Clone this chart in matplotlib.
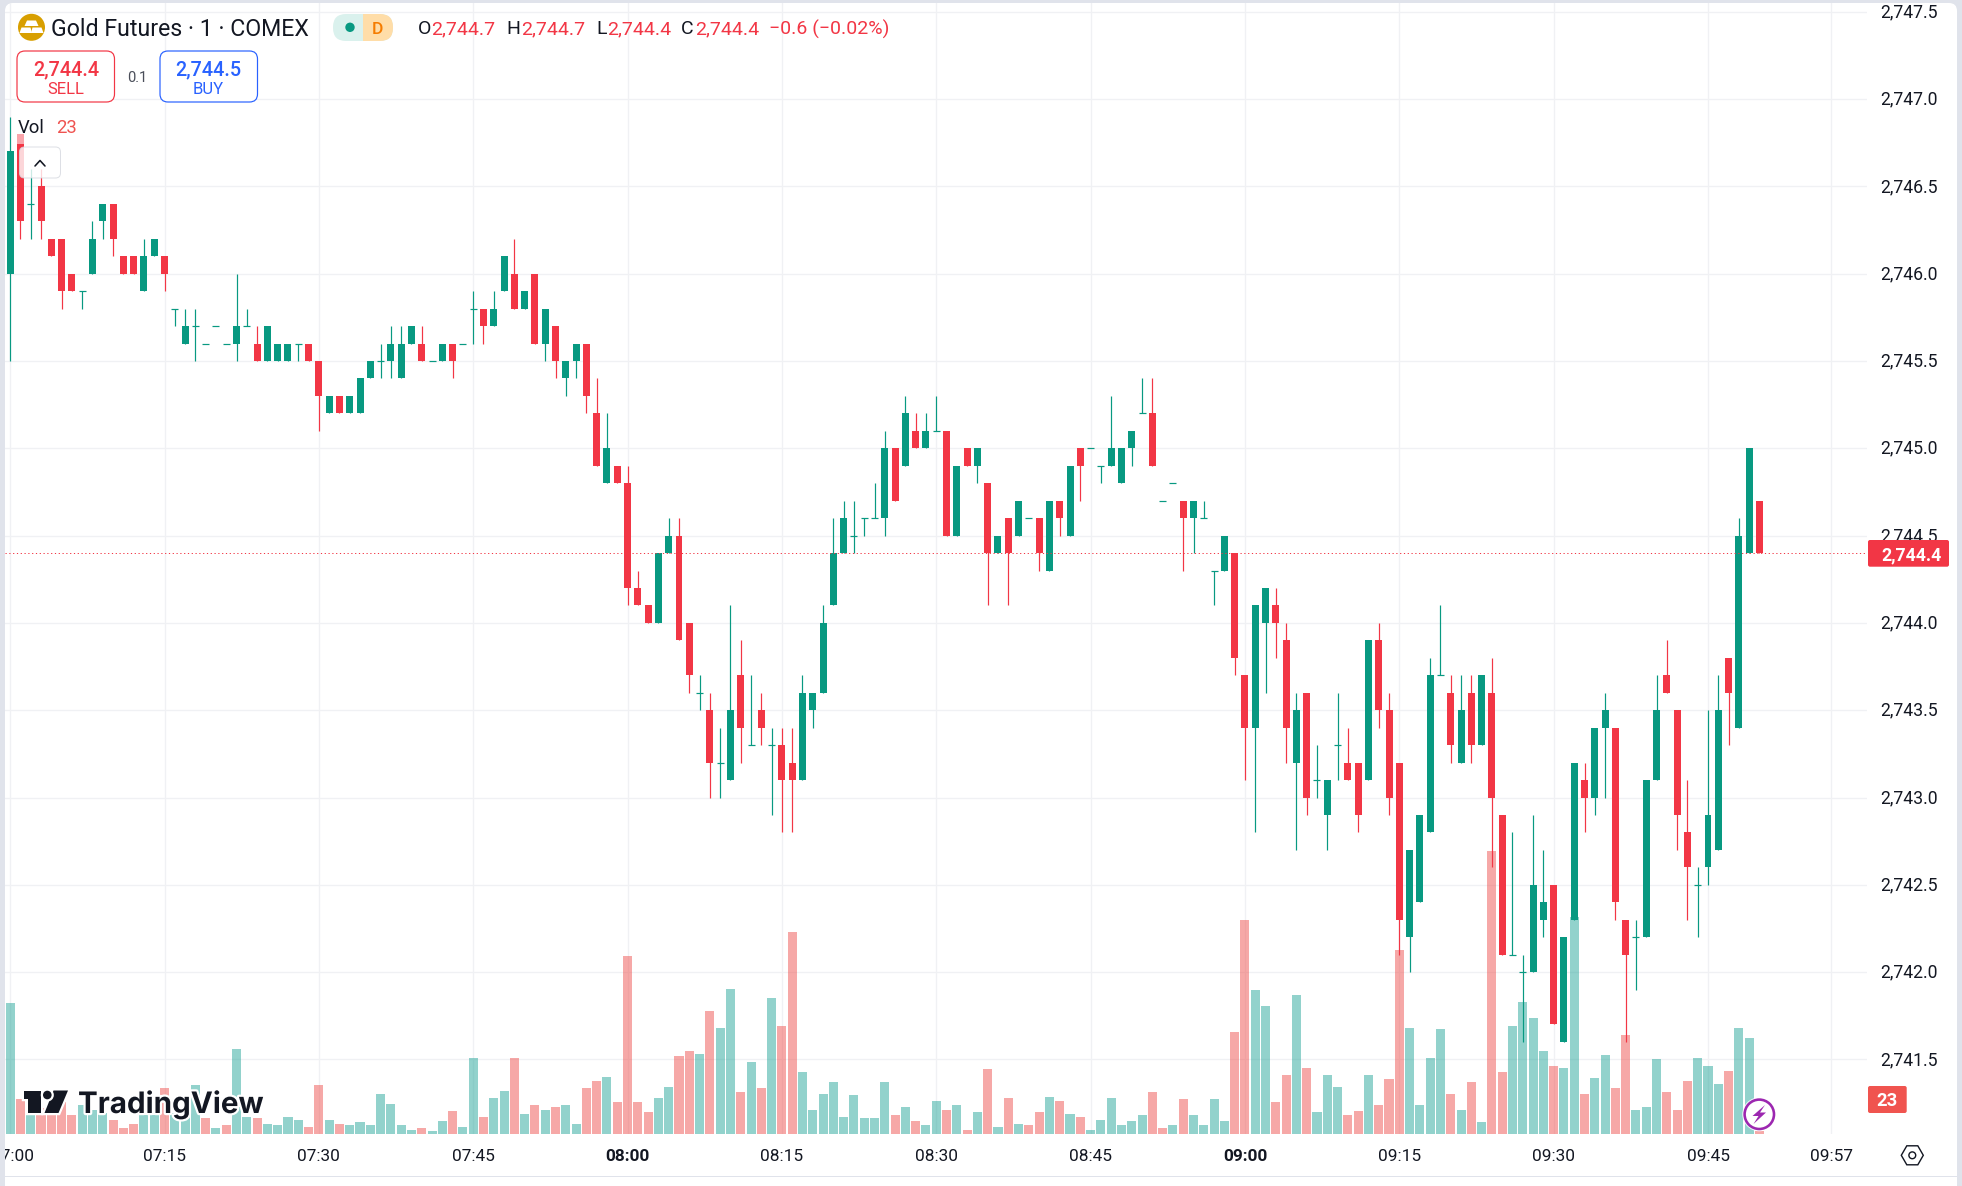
import matplotlib
matplotlib.use("Agg")
import matplotlib.pyplot as plt
from matplotlib.patches import Rectangle, FancyBboxPatch, Polygon, Circle
from matplotlib.ticker import FuncFormatter
from matplotlib.transforms import ScaledTranslation
import matplotlib.patheffects as pe

# ---------- data (one-minute bars from 07:00) ----------
open_ = [
2746.0,2746.8,2746.4,2746.5,2746.2,2746.2,2746.0,2745.9,2746.0,2746.3,
2746.4,2746.1,2746.1,2745.9,2746.1,2746.1,2745.8,2745.6,2745.7,2745.6,
2745.7,2745.6,2745.6,2745.7,2745.6,2745.5,2745.5,2745.5,2745.6,2745.6,
2745.5,2745.2,2745.3,2745.2,2745.2,2745.4,2745.5,2745.5,2745.4,2745.6,
2745.6,2745.5,2745.5,2745.6,2745.6,2745.8,2745.8,2745.7,2745.9,2746.0,
2745.8,2746.0,2745.6,2745.7,2745.4,2745.5,2745.6,2745.2,2744.8,2744.9,
2744.8,2744.2,2744.1,2744.0,2744.4,2744.5,2744.0,2743.6,2743.5,2743.2,
2743.1,2743.7,2743.3,2743.5,2743.3,2743.3,2743.2,2743.1,2743.5,2743.6,
2744.1,2744.4,2744.5,2744.6,2744.6,2744.6,2745.0,2744.9,2745.1,2745.0,
2745.1,2745.1,2744.5,2745.0,2744.9,2744.8,2744.4,2744.6,2744.5,2744.6,
2744.6,2744.3,2744.7,2744.5,2745.0,2745.0,2744.9,2744.9,2744.8,2745.0,
2745.2,2745.2,2744.7,2744.8,2744.7,2744.6,2744.6,2744.3,2744.3,2744.4,
2743.7,2743.4,2744.0,2744.1,2743.9,2743.2,2743.6,2743.1,2742.9,2743.3,
2743.2,2743.2,2743.1,2743.9,2743.5,2743.2,2742.2,2742.4,2742.8,2743.7,
2743.6,2743.2,2743.6,2743.3,2743.6,2742.9,2742.1,2742.0,2742.0,2742.3,
2742.5,2741.6,2742.3,2743.1,2743.0,2743.4,2743.4,2742.3,2742.2,2742.2,
2743.1,2743.7,2743.5,2742.8,2742.5,2742.6,2742.7,2743.8,2743.4,2744.4,
2744.7]
high = [
2746.9,2746.8,2746.6,2746.6,2746.2,2746.2,2746.0,2745.9,2746.3,2746.4,
2746.4,2746.1,2746.1,2746.2,2746.2,2746.1,2745.8,2745.8,2745.8,2745.6,
2745.7,2745.6,2746.0,2745.8,2745.7,2745.7,2745.6,2745.6,2745.6,2745.6,
2745.5,2745.3,2745.3,2745.3,2745.4,2745.5,2745.6,2745.7,2745.7,2745.7,
2745.7,2745.5,2745.6,2745.6,2745.6,2745.9,2745.8,2745.9,2746.1,2746.2,
2745.9,2746.0,2745.8,2745.7,2745.5,2745.6,2745.6,2745.4,2745.2,2744.9,
2744.9,2744.3,2744.1,2744.4,2744.6,2744.6,2744.0,2743.7,2743.6,2743.4,
2744.1,2743.9,2743.7,2743.6,2743.4,2743.4,2743.4,2743.7,2743.6,2744.1,
2744.6,2744.7,2744.7,2744.6,2744.8,2745.1,2745.0,2745.3,2745.2,2745.2,
2745.3,2745.1,2744.9,2745.0,2745.0,2744.8,2744.5,2744.6,2744.7,2744.6,
2744.6,2744.7,2744.7,2744.9,2745.0,2745.0,2744.9,2745.3,2745.0,2745.1,
2745.4,2745.4,2744.7,2744.8,2744.7,2744.7,2744.7,2744.3,2744.5,2744.4,
2743.7,2744.1,2744.2,2744.2,2744.0,2743.6,2743.6,2743.3,2743.1,2743.6,
2743.4,2743.2,2743.9,2744.0,2743.6,2743.2,2742.7,2742.9,2743.8,2744.1,
2743.7,2743.7,2743.7,2743.7,2743.8,2742.9,2742.8,2742.1,2742.9,2742.7,
2742.5,2742.2,2743.2,2743.2,2743.4,2743.6,2743.4,2742.3,2742.3,2743.1,
2743.7,2743.9,2743.5,2743.1,2742.6,2743.5,2743.7,2743.8,2744.6,2745.0,
2744.7]
low = [
2745.5,2746.2,2746.2,2746.2,2746.1,2745.8,2745.9,2745.8,2746.0,2746.2,
2746.1,2746.0,2746.0,2745.9,2746.1,2745.9,2745.7,2745.6,2745.5,2745.6,
2745.7,2745.6,2745.5,2745.7,2745.5,2745.5,2745.5,2745.5,2745.5,2745.5,
2745.1,2745.2,2745.2,2745.2,2745.2,2745.4,2745.4,2745.4,2745.4,2745.6,
2745.5,2745.5,2745.5,2745.4,2745.6,2745.6,2745.6,2745.7,2745.9,2745.8,
2745.8,2745.6,2745.5,2745.4,2745.3,2745.4,2745.2,2744.9,2744.8,2744.8,
2744.1,2744.1,2744.0,2744.0,2744.4,2743.9,2743.6,2743.5,2743.0,2743.0,
2743.1,2743.2,2743.3,2743.3,2742.9,2742.8,2742.8,2743.1,2743.4,2743.6,
2744.1,2744.4,2744.4,2744.5,2744.6,2744.5,2744.7,2744.9,2745.0,2745.0,
2745.1,2744.5,2744.5,2744.9,2744.8,2744.1,2744.4,2744.1,2744.5,2744.6,
2744.3,2744.3,2744.5,2744.5,2744.7,2745.0,2744.8,2744.9,2744.8,2744.9,
2745.2,2744.9,2744.7,2744.8,2744.3,2744.4,2744.6,2744.1,2744.3,2743.7,
2743.1,2742.8,2743.6,2743.8,2743.2,2742.7,2742.9,2743.0,2742.7,2743.1,
2743.1,2742.8,2743.1,2743.4,2742.9,2742.1,2742.0,2742.4,2742.8,2743.7,
2743.2,2743.2,2743.2,2743.3,2742.6,2742.1,2742.1,2741.6,2742.0,2742.2,
2741.7,2741.6,2742.3,2742.8,2742.9,2743.0,2742.3,2741.6,2741.9,2742.2,
2743.1,2743.6,2742.7,2742.3,2742.2,2742.5,2742.7,2743.3,2743.4,2744.4,
2744.4]
close = [
2746.7,2746.3,2746.4,2746.3,2746.1,2745.9,2745.9,2745.9,2746.2,2746.4,
2746.2,2746.0,2746.0,2746.1,2746.2,2746.0,2745.8,2745.7,2745.7,2745.6,
2745.7,2745.6,2745.7,2745.7,2745.5,2745.7,2745.6,2745.6,2745.6,2745.5,
2745.3,2745.3,2745.2,2745.3,2745.4,2745.5,2745.5,2745.6,2745.6,2745.7,
2745.5,2745.5,2745.6,2745.5,2745.6,2745.8,2745.7,2745.8,2746.1,2745.8,
2745.9,2745.6,2745.8,2745.5,2745.5,2745.6,2745.3,2744.9,2745.0,2744.8,
2744.2,2744.1,2744.0,2744.4,2744.5,2743.9,2743.7,2743.6,2743.2,2743.2,
2743.5,2743.4,2743.3,2743.4,2743.3,2743.1,2743.1,2743.6,2743.6,2744.0,
2744.4,2744.6,2744.5,2744.6,2744.6,2745.0,2744.7,2745.2,2745.0,2745.1,
2745.1,2744.5,2744.9,2744.9,2745.0,2744.4,2744.5,2744.4,2744.7,2744.6,
2744.4,2744.7,2744.6,2744.9,2744.9,2745.0,2744.9,2745.0,2745.0,2745.1,
2745.2,2744.9,2744.7,2744.8,2744.6,2744.7,2744.6,2744.3,2744.5,2743.8,
2743.4,2744.1,2744.2,2744.0,2743.4,2743.5,2743.0,2743.1,2743.1,2743.3,
2743.1,2742.9,2743.9,2743.5,2743.0,2742.3,2742.7,2742.9,2743.7,2743.7,
2743.3,2743.5,2743.3,2743.7,2743.0,2742.1,2742.1,2742.0,2742.5,2742.4,
2741.7,2742.2,2743.2,2743.0,2743.4,2743.5,2742.4,2742.1,2742.2,2743.1,
2743.5,2743.6,2742.9,2742.6,2742.5,2742.9,2743.5,2743.6,2744.5,2745.0,
2744.4]
volume = [
1179,315,270,231,231,291,171,261,216,186,126,54,90,171,171,414,186,216,441,144,
54,81,765,153,144,90,81,153,126,63,441,126,90,81,108,81,360,270,81,36,
54,27,117,207,63,684,153,324,387,684,180,261,216,243,261,90,414,477,513,288,
1602,288,198,324,423,702,747,720,1107,954,1305,378,648,414,1224,972,1818,558,216,360,
468,153,351,144,144,468,171,243,117,81,297,216,261,36,198,585,63,324,90,81,
198,333,297,180,153,36,126,324,81,117,171,378,54,81,315,171,81,315,117,918,
1926,1296,1152,288,531,1251,594,198,531,423,171,207,531,261,495,1656,954,261,684,945,
360,216,468,108,2547,558,972,1188,1044,747,612,594,1950,360,504,711,414,891,216,243,
675,378,216,477,684,612,450,567,954,864,23]
vol_dir = ("grgrrrrggg" "rrrggrgggr" "grggrggggr" "rgrggggggg" "rggrggrggr" "grgrggrrgr"
           "rrrggrrgrg" "grgrgrrggg" "ggggggrgrg" "grgrgrgrgr" "rgrgrggggg" "grrgrggggr"
           "rggrrgrggg" "rrgrrrgggg" "rgrgrrgggg" "rggrggrrgg" "grrrgggrgg" "r")
time_ticks = [0, 15, 30, 45, 60, 75, 90, 105, 120, 135, 150, 165, 177]
time_labels = ["07:00", "07:15", "07:30", "07:45", "08:00", "08:15", "08:30",
               "08:45", "09:00", "09:15", "09:30", "09:45", "09:57"]
bold_times = ["08:00", "09:00"]
price_ticks = [2741.5, 2742.0, 2742.5, 2743.0, 2743.5, 2744.0, 2744.5,
               2745.0, 2745.5, 2746.0, 2746.5, 2747.0, 2747.5]
last_price = 2744.4

# ---------- style ----------
GREEN, RED = "#089981", "#f23645"
VOL_G, VOL_R = "#26a69a", "#ef5350"
GRID = "#f0f1f4"
PAGE = "#e0e3eb"
INK = "#131722"
plt.rcParams["font.family"] = ["Roboto", "DejaVu Sans"]

W, H = 1962, 1186
fig = plt.figure(figsize=(W / 100, H / 100), dpi=100, facecolor=PAGE)
PX = 0.72  # points per pixel


def add_px_axes(x0, y0, x1, y1, z):
    a = fig.add_axes([x0 / W, 1 - y1 / H, (x1 - x0) / W, (y1 - y0) / H], zorder=z)
    return a


# background panel
bg = fig.add_axes([0, 0, 1, 1], zorder=0)
bg.set_xlim(0, W); bg.set_ylim(H, 0); bg.axis("off")
bg.add_patch(FancyBboxPatch((5, 3), 1952, 1300, boxstyle="round,pad=0,rounding_size=8",
                            fc="white", ec="none"))
bg.add_patch(Rectangle((5, 1176), 1952, 1.3, fc=PAGE, ec="none"))

# chart panes share the same pixel box
X0, X1, Y0, Y1 = 5, 1867, 3, 1134
slot = 10.29
xlim = ((X0 - 10.15) / slot, (X1 - 10.15) / slot)
per_unit = 174.6
ylim = (2745 - (Y1 - 448.3) / per_unit, 2745 + (448.3 - Y0) / per_unit)

ax_grid = add_px_axes(X0, Y0, X1, Y1, 1)
ax_vol = add_px_axes(X0, Y0, X1, Y1, 2)
ax = add_px_axes(X0, Y0, X1, Y1, 3)
for a in (ax_grid, ax_vol, ax):
    a.set_xlim(*xlim)
    for s in a.spines.values():
        s.set_visible(False)
ax_grid.set_ylim(*ylim)
ax.set_ylim(*ylim)
ax_vol.set_ylim(0, (Y1 - Y0) * 9)
ax_vol.axis("off")
ax.axis("off")
ax_grid.patch.set_visible(False)
ax_vol.patch.set_visible(False)
ax.patch.set_visible(False)

# grid + axes labels
ax_grid.set_xticks(time_ticks)
ax_grid.set_xticklabels(time_labels)
ax_grid.set_yticks(price_ticks)
ax_grid.yaxis.set_major_formatter(FuncFormatter(lambda v, _: f"{v:,.1f}"))
ax_grid.yaxis.tick_right()
ax_grid.grid(True, color=GRID, lw=1.3 * PX)
ax_grid.tick_params(axis="both", length=0, labelcolor=INK)
ax_grid.tick_params(axis="y", pad=9.5, labelsize=12.7)
ax_grid.tick_params(axis="x", pad=11, labelsize=12.4)
for lab in ax_grid.get_xticklabels():
    if lab.get_text() in bold_times:
        lab.set_fontweight("bold")
    if lab.get_text() == "07:00":
        lab.set_transform(lab.get_transform()
                          + ScaledTranslation(2.5 / 100, 0, fig.dpi_scale_trans))
for lab in ax_grid.get_yticklabels():
    lab.set_transform(lab.get_transform()
                      + ScaledTranslation(0, 1.5 / 100, fig.dpi_scale_trans))

# volume
xs = list(range(len(close)))
ax_vol.bar(xs, volume, width=0.88, linewidth=0, alpha=0.5,
           color=[VOL_G if d == "g" else VOL_R for d in vol_dir])

# candles
cols = [GREEN if c >= o else RED for o, c in zip(open_, close)]
ax.vlines(xs, low, high, colors=cols, linewidth=1.2 * PX)
ax.bar(xs, [abs(c - o) for o, c in zip(open_, close)],
       bottom=[min(o, c) for o, c in zip(open_, close)],
       width=0.68, color=cols, linewidth=0)
flat = [i for i in xs if open_[i] == close[i]]
ax.hlines([close[i] for i in flat], [i - 0.34 for i in flat], [i + 0.34 for i in flat],
          colors=[cols[i] for i in flat], linewidth=1.2 * PX)
ax.axhline(last_price, color=RED, lw=1.0 * PX, ls=(0, (1.2, 2.6)))

# ---------- overlay furniture, in pixel coordinates ----------
ui = fig.add_axes([0, 0, 1, 1], zorder=5)
ui.set_xlim(0, W); ui.set_ylim(H, 0); ui.axis("off"); ui.patch.set_visible(False)


def txt(x, y, s, size, color=INK, ha="left", weight="normal", **kw):
    return ui.text(x, y, s, fontsize=size, color=color, ha=ha, va="center_baseline",
                   fontweight=weight, **kw)


def rbox(x0, y0, x1, y1, r, fc, ec="none", lw=0, alpha=None):
    ui.add_patch(FancyBboxPatch((x0, y0), x1 - x0, y1 - y0,
                                boxstyle=f"round,pad=0,rounding_size={r}",
                                fc=fc, ec=ec, lw=lw * PX, alpha=alpha))


# page strips
ui.add_patch(Rectangle((0, 0), 5, H, fc=PAGE, ec="none"))
ui.add_patch(Rectangle((1957, 0), 5, H, fc=PAGE, ec="none"))

# symbol icon
ui.add_patch(Circle((31.5, 27.3), 13.5, fc="#d89f00", ec="none"))
for pts in ([(27, 20.5), (36, 20.5), (38.5, 26), (24.5, 26)],
            [(21.5, 27.5), (30.5, 27.5), (32, 33), (19.5, 33)],
            [(32.5, 27.5), (41.5, 27.5), (43.5, 33), (31, 33)]):
    ui.add_patch(Polygon(pts, fc="white", ec="none"))

# header
txt(51, 27, "Gold Futures · 1 · COMEX", 16.7, INK)
ui.add_patch(FancyBboxPatch((333, 14), 60, 27, boxstyle="round,pad=0,rounding_size=13",
                            fc="#daf1ed", ec="none"))
clip = FancyBboxPatch((333, 14), 60, 27, boxstyle="round,pad=0,rounding_size=13",
                      fc="none", ec="none", transform=ui.transData)
ui.add_patch(clip)
half = Rectangle((362.5, 14), 31, 27, fc="#ffdda8", ec="none")
ui.add_patch(half)
half.set_clip_path(clip)
ui.add_patch(Circle((350, 27.3), 4.7, fc=GREEN, ec="none"))
txt(377, 27.5, "D", 12.5, "#f57c00", ha="center", weight="medium")

for x, s, c in [(418, "O", INK), (431, "2,744.7", RED), (506, "H", INK), (521, "2,744.7", RED),
                (596, "L", INK), (607, "2,744.4", RED), (681, "C", INK), (695, "2,744.4", RED),
                (769, "−0.6 (−0.02%)", RED)]:
    txt(x, 27, s, 14, c)

# sell / buy
rbox(17, 51, 114.5, 102, 8, "white", RED, 1.2)
rbox(160, 51, 257.5, 102, 8, "white", "#2962ff", 1.2)
txt(66, 68, "2,744.4", 14.2, RED, ha="center", weight="medium")
txt(66, 88, "SELL", 12, RED, ha="center")
txt(137, 76, "0.1", 10.5, "#4a4e59", ha="center")
txt(208, 68, "2,744.5", 14.2, "#2962ff", ha="center", weight="medium")
txt(208, 88, "BUY", 12, "#2962ff", ha="center")

# volume legend
ui.add_patch(Rectangle((15, 113), 70, 31, fc="white", ec="none", alpha=0.55))
txt(18, 126, "Vol", 13.3, INK)
txt(56.5, 126, "23", 13.3, VOL_R)
rbox(19.5, 147, 60.5, 178, 5, "white", "#d5d8df", 1.0, alpha=0.8)
ui.plot([35, 40, 45], [166, 160.5, 166], color=INK, lw=1.6 * PX, solid_capstyle="round")

# TradingView mark
halo = [pe.withStroke(linewidth=3.2, foreground="white")]
for pts in ([(23.5, 1090.5), (40.7, 1090.5), (40.7, 1113), (28, 1113), (28, 1099), (23.5, 1099)],
            [(53.5, 1090.5), (68, 1090.5), (58.5, 1113), (44.5, 1113)]):
    p = Polygon([(a, b) for a, b in pts], fc=INK, ec="none")
    p.set_path_effects(halo)
    ui.add_patch(p)
c = Circle((47.3, 1095), 4.3, fc=INK, ec="none")
c.set_path_effects(halo)
ui.add_patch(c)
t = ui.text(78, 1113, "TradingView", fontsize=21.3, color=INK, fontweight="bold",
            ha="left", va="baseline", family=["Inter", "Roboto"])
t.set_path_effects(halo)

# price tags
rbox(1868, 540, 1949, 566.7, 2, RED)
txt(1911, 553.5, "2,744.4", 12.8, "white", ha="center", weight="bold")
rbox(1868, 1086, 1906.7, 1113, 2, "#f0544f")
txt(1887, 1099.5, "23", 13.2, "white", ha="center", weight="bold")

# alert icon
ui.add_patch(Circle((1759.3, 1114.3), 17, fc="white", ec="none", alpha=0.85))
ui.add_patch(Circle((1759.3, 1114.3), 14.7, fc="white", ec="#9c27b0", lw=2.6 * PX))
ui.add_patch(Polygon([(1765, 1105), (1752.5, 1116), (1758.5, 1116), (1753.5, 1124),
                      (1766, 1112.5), (1760, 1112.5)], fc="#9c27b0", ec="none"))

# settings icon
hx, hy = 1912.3, 1155.3
ui.add_patch(Polygon([(hx - 11, hy), (hx - 5.5, hy - 9.5), (hx + 5.5, hy - 9.5), (hx + 11, hy),
                      (hx + 5.5, hy + 9.5), (hx - 5.5, hy + 9.5)], fc="none", ec=INK, lw=1.4 * PX))
ui.add_patch(Circle((hx, hy), 3.4, fc="none", ec=INK, lw=1.4 * PX))

fig.savefig("out.png", dpi=100, facecolor=PAGE)
